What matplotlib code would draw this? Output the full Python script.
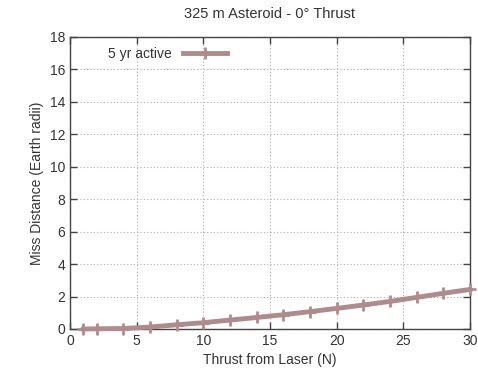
import numpy as np
import matplotlib
matplotlib.use('Agg')
import matplotlib.pyplot as plt

# thrust (N) vs miss distance (Earth radii)
thrust = [1, 2, 4, 6, 8, 10, 12, 14, 16, 18, 20, 22, 24, 26, 28, 30]
miss = [0.0, 0.01, 0.03, 0.12, 0.26, 0.39, 0.55, 0.71, 0.88, 1.07, 1.27, 1.48, 1.7, 1.95, 2.2, 2.44]

plt.rcParams['font.family'] = ['Liberation Sans', 'DejaVu Sans']
plt.rcParams['font.size'] = 10

fig = plt.figure(figsize=(4.78, 3.78), dpi=100)
ax = fig.add_axes([70/478, 49/378, 400/478, 292/378])

ax.plot(thrust, miss, color='#b08b8b', lw=3.5, marker='+', ms=8, mew=2,
        label='5 yr active', clip_on=False, zorder=3)

ax.set_xlim(0, 30)
ax.set_ylim(0, 18)
ax.set_xticks(np.arange(0, 31, 5))
ax.set_yticks(np.arange(0, 19, 2))
ax.grid(True, color='#b0b0b0', linestyle=(0, (1, 2)), lw=0.8)
ax.tick_params(direction='in', top=True, right=True, length=5, width=1, color='#444444', labelcolor='#333333')
for s in ax.spines.values():
    s.set_color('#444444')
    s.set_linewidth(1)

ax.set_xlabel('Thrust from Laser (N)', color='#333333')
ax.set_ylabel('Miss Distance (Earth radii)', color='#333333')
ax.set_title('325 m Asteroid - 0° Thrust', color='#333333', pad=14, fontsize=10.5)

leg = ax.legend(loc='upper left', frameon=False, markerfirst=False, handlelength=3.2,
                bbox_to_anchor=(0.07, 1.0), borderaxespad=0.3)
for t in leg.get_texts():
    t.set_color('#333333')

fig.savefig('out.png', dpi=100)
